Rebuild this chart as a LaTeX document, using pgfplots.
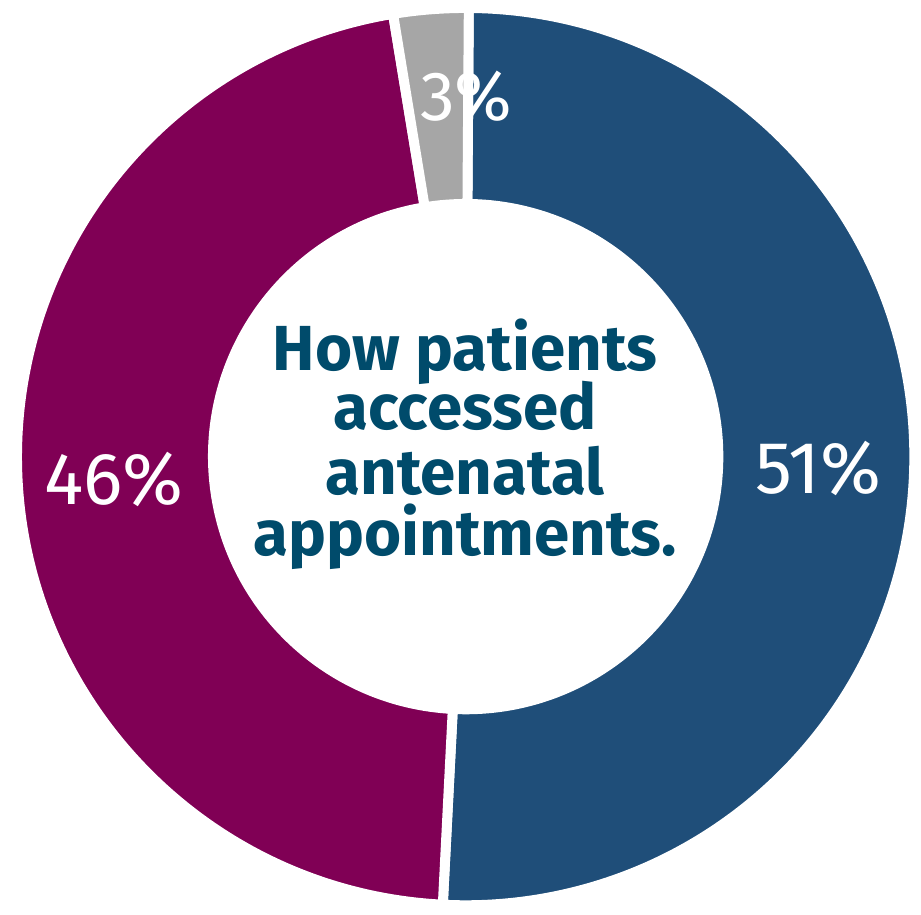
\documentclass[border=0pt]{standalone}
\usepackage{pgfplots}
\pgfplotsset{compat=1.18}
\usepackage{fontspec}
\setmainfont{Fira Sans}
\usetikzlibrary{calc}
\definecolor{cblue}{RGB}{31,78,121}
\definecolor{cpurple}{RGB}{128,0,85}
\definecolor{cgray}{RGB}{166,166,166}
\definecolor{ctitle}{RGB}{0,75,107}
% shares of the ring (per cent), clockwise from 12 o'clock
\def\vBlue{50.7}
\def\vPurple{46.6}
\def\vGray{2.7}
\pgfmathsetmacro\aStart{89.6}
\pgfmathsetmacro\aBlue{\aStart-3.6*\vBlue}
\pgfmathsetmacro\aPurple{\aBlue-3.6*\vPurple}
\pgfmathsetmacro\aGray{\aPurple-3.6*\vGray}
\newcommand\slice[3]{%
  \fill[#3,draw=white,line width=5pt,line join=miter]
   ($(axis cs:467.5,449)+(#1:225.5pt)$) arc[start angle=#1,end angle=#2,radius=225.5pt]
   -- ($(axis cs:467.5,449)+(#2:127pt)$) arc[start angle=#2,end angle=#1,radius=127pt] -- cycle;}
\begin{document}
\begin{tikzpicture}
\begin{axis}[x=0.5pt,y=0.5pt,xmin=0,xmax=921,ymin=0,ymax=908,
  hide axis,clip=false,scale only axis]
\path (axis cs:0,0) rectangle (axis cs:921,908);
\slice{\aStart}{\aBlue}{cblue}
\slice{\aBlue}{\aPurple}{cpurple}
\slice{\aPurple}{\aGray}{cgray}
\node[white,font=\fontsize{37}{37}\selectfont] at (axis cs:822,437) {51\%};
\node[white,font=\fontsize{37}{37}\selectfont] at (axis cs:114,426) {46\%};
\node[white,font=\fontsize{35}{35}\selectfont] at (axis cs:468,811) {3\%};
\begin{scope}[every node/.style={ctitle,anchor=base,font=\fontsize{32}{32}\selectfont\bfseries}]
\node at (axis cs:467,536) {How patients};
\node at (axis cs:467,476) {accessed};
\node at (axis cs:467,411) {antenatal};
\node at (axis cs:467,350) {appointments.};
\end{scope}
\end{axis}
\end{tikzpicture}
\end{document}
